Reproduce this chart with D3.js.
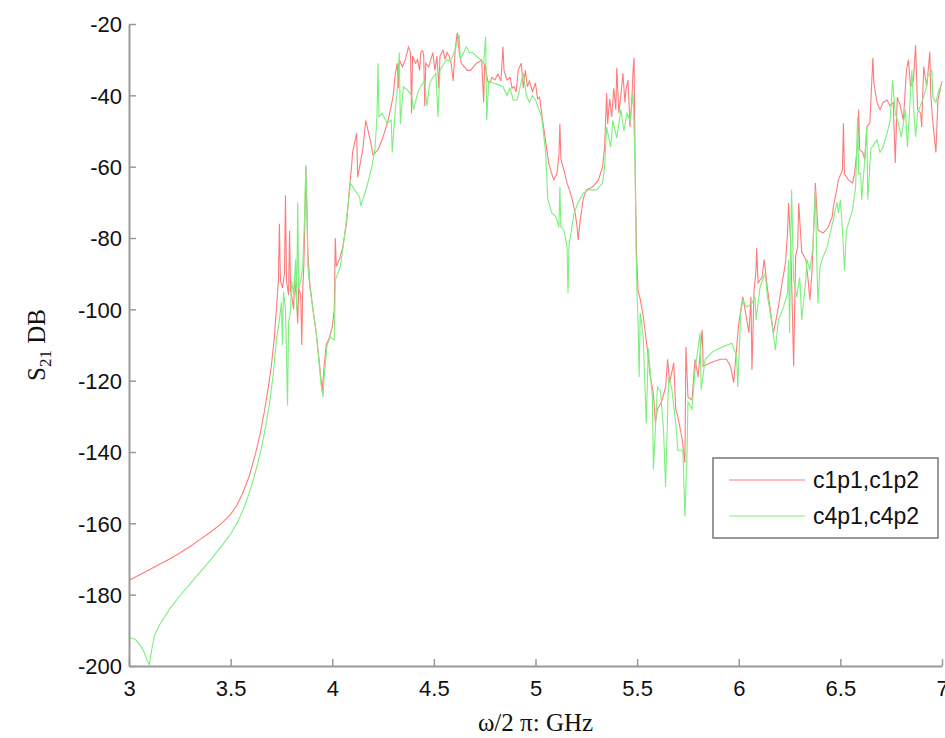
<!DOCTYPE html>
<html><head><meta charset="utf-8">
<script src="https://cdn.jsdelivr.net/npm/d3@7"></script>
<style>body{margin:0;background:#fff}svg{display:block}</style>
</head><body><div id="chart"></div>
<script>
const xTicks = [3, 3.5, 4, 4.5, 5, 5.5, 6, 6.5, 7];
const yTicks = [-200, -180, -160, -140, -120, -100, -80, -60, -40, -20];
const seriesNames = ["c1p1,c1p2", "c4p1,c4p2"];

const redX = [3.0,3.05,3.1,3.15,3.2,3.25,3.3,3.35,3.4,3.45,3.5,3.53,3.56,3.59,3.62,3.645,3.665,3.685,3.70,3.715,3.725,3.735,3.74,3.745,3.755,3.765,3.77,3.775,3.785,3.79,3.795,3.80,3.81,3.815,3.825,3.83,3.835,3.845,3.85,3.855,3.86,3.865,3.87,3.875,3.88,3.89,3.905,3.92,3.935,3.945,3.95,3.96,3.97,3.985,4.0,4.01,4.015,4.02,4.035,4.05,4.07,4.085,4.095,4.10,4.12,4.125,4.15,4.165,4.19,4.20,4.225,4.25,4.275,4.29,4.30,4.31,4.32,4.325,4.33,4.345,4.36,4.375,4.385,4.39,4.395,4.41,4.42,4.43,4.435,4.445,4.45,4.455,4.46,4.475,4.485,4.495,4.505,4.515,4.525,4.53,4.545,4.555,4.565,4.575,4.585,4.595,4.605,4.615,4.625,4.635,4.65,4.665,4.68,4.695,4.71,4.725,4.735,4.745,4.75,4.765,4.775,4.785,4.8,4.815,4.83,4.84,4.845,4.86,4.875,4.885,4.895,4.905,4.915,4.93,4.94,4.95,4.96,4.97,4.985,5.0,5.01,5.02,5.035,5.05,5.065,5.08,5.09,5.105,5.115,5.12,5.125,5.14,5.155,5.17,5.18,5.195,5.205,5.21,5.22,5.235,5.25,5.28,5.31,5.33,5.34,5.35,5.355,5.365,5.375,5.385,5.395,5.40,5.41,5.42,5.43,5.44,5.445,5.455,5.465,5.475,5.48,5.485,5.49,5.497,5.505,5.515,5.53,5.55,5.565,5.58,5.59,5.60,5.62,5.64,5.65,5.66,5.68,5.69,5.70,5.72,5.735,5.74,5.75,5.77,5.785,5.80,5.82,5.825,5.86,5.91,5.94,5.96,5.97,5.975,5.99,6.0,6.02,6.04,6.05,6.06,6.065,6.075,6.085,6.088,6.095,6.115,6.125,6.14,6.155,6.17,6.18,6.195,6.21,6.23,6.24,6.245,6.255,6.26,6.27,6.28,6.29,6.295,6.31,6.33,6.34,6.35,6.36,6.372,6.377,6.385,6.39,6.415,6.44,6.46,6.465,6.475,6.485,6.49,6.51,6.515,6.52,6.54,6.56,6.57,6.585,6.59,6.595,6.61,6.62,6.63,6.645,6.66,6.665,6.68,6.695,6.71,6.73,6.745,6.76,6.77,6.78,6.795,6.81,6.825,6.835,6.845,6.86,6.87,6.88,6.895,6.90,6.91,6.925,6.94,6.945,6.955,6.97,6.98,7.0];
const redY = [-176,-174.5,-173,-171.5,-170,-168.3,-166.5,-164.5,-162.5,-160.3,-157.5,-155,-151.5,-147,-141,-135,-129,-122,-116,-108,-100,-92,-76,-92,-94,-90,-68,-92,-96,-78,-95,-96,-100,-91,-98,-104,-94,-96,-110,-94,-88,-76,-60,-72,-84,-93,-100,-106,-114,-120,-123,-116,-110,-108,-105,-100,-80,-88,-86,-83,-76,-66,-60,-56,-50.6,-63,-55.3,-47,-53.4,-56.7,-55.3,-51.7,-47,-43,-40,-34,-31,-38,-30,-32,-30,-26.4,-28,-45,-29,-31,-30,-33,-28,-27.5,-29,-43,-31,-32,-30,-28,-33,-29,-38,-29,-27.3,-30,-28,-29,-31,-36,-27,-22.5,-28,-31,-32,-33,-33,-32,-31,-30.5,-30,-42,-31,-36,-36.5,-35,-35.7,-34,-36,-26.4,-33,-35.7,-35,-38,-37.6,-39,-33,-31,-38,-33,-37.6,-36,-39,-36.5,-41,-40.5,-47,-53,-59,-62,-63.7,-62,-57,-48,-58,-61,-64.6,-67,-69,-73,-77,-80.6,-75,-69,-66.5,-65.7,-63.7,-60,-54.5,-39.4,-48,-41,-46,-38,-44,-32.3,-45,-40,-33.8,-42,-38.5,-35.7,-48.9,-40,-33,-29.5,-59,-84,-95,-97,-102,-111,-119,-123.5,-132,-128,-126,-121.8,-114,-120.6,-115,-128,-130,-135.8,-143,-110.5,-124.6,-125.4,-114,-119,-105.8,-116,-115,-114,-114,-116,-119,-120.6,-110.5,-104,-96.5,-103,-106.6,-96.5,-117,-95,-89,-82.8,-92.6,-91,-86,-93.7,-100,-106.6,-104,-99.4,-93.7,-87,-78.6,-70.2,-80.6,-91.8,-116,-85,-82.5,-70.2,-84,-86,-91,-97.4,-89.8,-73,-64.6,-73,-77.8,-78.6,-77,-74,-71.3,-68.5,-65.7,-63.7,-61,-47.8,-62,-63.7,-64.6,-61.8,-53.4,-44,-55.3,-56,-58,-48.9,-47.8,-29.5,-36.5,-42,-44,-42,-41.3,-43,-42,-59,-40.5,-43,-47,-33,-30,-37.6,-35.7,-26,-44,-45,-48.9,-32,-37.6,-27.8,-40,-47.8,-56,-41.3,-36];

const greenX = [3.0,3.03,3.05,3.07,3.09,3.10,3.11,3.125,3.15,3.2,3.25,3.3,3.35,3.4,3.45,3.5,3.54,3.57,3.6,3.63,3.655,3.675,3.695,3.71,3.725,3.74,3.75,3.755,3.76,3.77,3.78,3.785,3.795,3.80,3.81,3.82,3.825,3.83,3.835,3.845,3.855,3.865,3.87,3.875,3.88,3.89,3.905,3.92,3.935,3.945,3.955,3.96,3.975,3.99,4.01,4.015,4.04,4.06,4.09,4.11,4.135,4.14,4.17,4.195,4.21,4.22,4.225,4.23,4.245,4.27,4.29,4.295,4.31,4.32,4.33,4.335,4.35,4.37,4.39,4.40,4.42,4.44,4.455,4.465,4.48,4.495,4.51,4.52,4.53,4.55,4.565,4.58,4.60,4.625,4.63,4.66,4.675,4.69,4.71,4.73,4.745,4.755,4.76,4.77,4.79,4.815,4.84,4.86,4.875,4.89,4.91,4.94,4.955,4.97,4.985,5.0,5.03,5.05,5.06,5.08,5.10,5.115,5.12,5.125,5.14,5.155,5.16,5.165,5.19,5.21,5.235,5.26,5.30,5.33,5.34,5.35,5.37,5.38,5.40,5.42,5.435,5.45,5.465,5.48,5.49,5.495,5.50,5.505,5.51,5.515,5.53,5.545,5.555,5.575,5.58,5.60,5.615,5.63,5.64,5.655,5.67,5.69,5.70,5.725,5.735,5.745,5.75,5.77,5.785,5.81,5.815,5.835,5.87,5.92,5.967,5.99,5.995,6.01,6.02,6.04,6.065,6.08,6.085,6.105,6.13,6.14,6.155,6.17,6.18,6.195,6.22,6.24,6.245,6.25,6.255,6.26,6.27,6.285,6.30,6.31,6.33,6.335,6.35,6.365,6.372,6.377,6.385,6.39,6.40,6.415,6.435,6.45,6.465,6.475,6.485,6.49,6.50,6.51,6.52,6.53,6.545,6.56,6.575,6.585,6.59,6.60,6.605,6.62,6.63,6.635,6.65,6.68,6.695,6.71,6.73,6.745,6.757,6.77,6.785,6.80,6.82,6.83,6.845,6.852,6.86,6.87,6.88,6.90,6.92,6.93,6.95,6.955,6.97,6.985,7.0];
const greenY = [-192,-192.5,-193.8,-195.5,-198.5,-199.7,-196,-191.5,-188.5,-184,-180.3,-177,-173.7,-170.3,-166.8,-163,-159,-155,-150,-144,-138,-132,-125,-118,-108.6,-103,-98,-110,-95,-100,-127,-104,-100,-92,-96,-86,-100,-70,-94,-92,-88,-72,-59.5,-70,-88,-94,-100,-106,-115,-121,-124.6,-119,-110,-107.8,-108.6,-91.8,-88,-79.7,-64.6,-66.5,-68.5,-71,-65.7,-60,-55.3,-46,-31,-46,-45,-47.8,-47,-56,-44,-38.5,-28,-48,-37.6,-38.5,-40,-44,-39.4,-37,-36,-43,-36.5,-35,-33.8,-46,-33,-31,-30,-30.5,-28,-23,-30,-26.4,-28,-28,-29,-30,-31,-23.6,-47,-36,-36.5,-37,-37.6,-40,-38,-41.3,-41.3,-33.8,-40,-42,-40,-41.3,-46,-56,-69,-73,-74,-77,-65.7,-77,-77.8,-82.5,-95.4,-82,-73,-70,-67.5,-66.5,-66.5,-64.6,-60,-48.9,-54.5,-47,-52,-44,-50,-45,-47,-39.4,-60,-84,-96.5,-104,-119,-101,-107.7,-132,-111,-124.6,-145,-121.8,-123,-133.8,-149.8,-119,-122,-132,-139.5,-139.5,-158,-142,-126,-128,-117,-106.6,-122.6,-114,-112,-110.5,-109.5,-113.4,-121.8,-101,-97.4,-99.4,-98.3,-96.5,-103,-93.7,-89.8,-96,-101,-106.6,-111.4,-103,-99.4,-95.4,-86,-106.6,-82.5,-66.5,-91.8,-96.5,-91,-103,-91.8,-86,-89,-82.5,-73,-66.5,-89,-98.3,-88,-85.3,-82.5,-78.6,-75,-72,-70,-73,-69.3,-77.8,-89,-77.8,-75,-72,-65.7,-46,-62,-61.8,-69.3,-58,-49,-69.3,-55,-52.5,-56,-54.5,-50.6,-47,-35.7,-45,-47.8,-51.7,-44,-54.5,-39.4,-33,-43.3,-51.7,-45,-42,-38.5,-34.8,-33,-40.5,-42,-38.5,-36.5];

const W = 945, H = 738;
const m = {left: 129, right: 3, top: 24, bottom: 72};
const svg = d3.select("#chart").append("svg").attr("width", W).attr("height", H);
const x = d3.scaleLinear().domain([3, 7]).range([m.left, W - m.right]);
const y = d3.scaleLinear().domain([-200, -20]).range([H - m.bottom, m.top]);

svg.append("clipPath").attr("id", "clip").append("rect")
  .attr("x", m.left).attr("y", m.top - 2).attr("width", W - m.right - m.left + 1).attr("height", H - m.bottom - m.top + 2);

const line = d3.line().x(d => x(d[0])).y(d => y(d[1]));
const red = redX.map((v, i) => [v, redY[i]]);
const green = greenX.map((v, i) => [v, greenY[i]]);
const colors = ["#ff7b7b", "#7cef7c"];
const g = svg.append("g").attr("clip-path", "url(#clip)");
g.append("path").datum(red).attr("d", line).attr("fill", "none").attr("stroke", colors[0]).attr("stroke-width", 1.1);
g.append("path").datum(green).attr("d", line).attr("fill", "none").attr("stroke", colors[1]).attr("stroke-width", 1.1);

const axisColor = "#999";
const fmt = d => String(d);
const xAxis = svg.append("g").attr("transform", `translate(0,${H - m.bottom})`)
  .call(d3.axisBottom(x).tickValues(xTicks).tickFormat(fmt).tickSizeInner(-7).tickSizeOuter(0).tickPadding(14));
const yAxis = svg.append("g").attr("transform", `translate(${m.left},0)`)
  .call(d3.axisLeft(y).tickValues(yTicks).tickFormat(fmt).tickSizeInner(-7).tickSizeOuter(0).tickPadding(7));
[xAxis, yAxis].forEach(a => {
  a.select(".domain").attr("stroke", axisColor).attr("stroke-width", 2);
  a.selectAll(".tick line").attr("stroke", axisColor).attr("stroke-width", 1.5);
  a.selectAll(".tick text").attr("fill", "#111").attr("font-family", "Liberation Sans, Arial, sans-serif").attr("font-size", 22);
});
yAxis.selectAll(".tick text").attr("dy", "0.36em");

// axis titles
const yt = svg.append("text").attr("transform", `translate(45,${(m.top + H - m.bottom) / 2}) rotate(-90)`)
  .attr("text-anchor", "middle").attr("font-family", "Liberation Serif, Times New Roman, serif").attr("font-size", 25).attr("fill", "#111");
yt.append("tspan").text("S");
yt.append("tspan").attr("font-size", 17).attr("dy", 6).text("21");
yt.append("tspan").attr("dy", -6).text(" DB");
svg.append("text").attr("x", (m.left + W - m.right) / 2).attr("y", 731).attr("text-anchor", "middle")
  .attr("font-family", "Liberation Serif, Times New Roman, serif").attr("font-size", 25).attr("fill", "#111")
  .text("ω/2 π: GHz");

// legend
const lg = svg.append("g");
lg.append("rect").attr("x", 713).attr("y", 458).attr("width", 225).attr("height", 80)
  .attr("fill", "#fff").attr("stroke", "#777").attr("stroke-width", 1.5);
seriesNames.forEach((n, i) => {
  const yy = 480 + i * 36;
  lg.append("line").attr("x1", 729).attr("x2", 805).attr("y1", yy).attr("y2", yy).attr("stroke", colors[i]).attr("stroke-width", 1.2);
  lg.append("text").attr("x", 813).attr("y", yy).attr("dy", "0.36em").attr("font-family", "Liberation Sans, Arial, sans-serif")
    .attr("font-size", 23).attr("fill", "#111").text(n);
});
</script></body></html>
